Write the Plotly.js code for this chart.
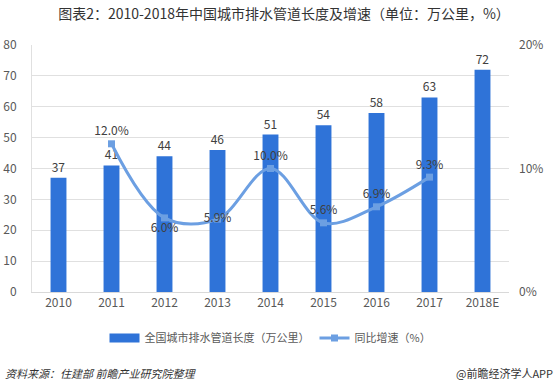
<!DOCTYPE html>
<html>
<head>
<meta charset="utf-8">
<script src="https://cdn.plot.ly/plotly-3.0.1.min.js"></script>
<style>html,body{margin:0;padding:0;background:#fff;}#chart{width:558px;height:380px;}</style>
</head>
<body>
<div id="chart"></div>
<script>
const categories = ['2010','2011','2012','2013','2014','2015','2016','2017','2018E'];
const pipeLength = [37, 41, 44, 46, 51, 54, 58, 63, 72];
const growthYears = ['2011','2012','2013','2014','2015','2016','2017'];
const growthRate = [12.0, 6.0, 5.9, 10.0, 5.6, 6.9, 9.3];
const growthLabels = ['12.0%','6.0%','5.9%','10.0%','5.6%','6.9%','9.3%'];
const growthLabelPos = ['top center','bottom center','middle center','top center','top center','top center','top center'];
const rightTicks = [0, 10, 20];
const rightTickText = ['0%','10%','20%'];

const FONT = '"Microsoft YaHei","Noto Sans CJK SC",sans-serif';
const GRAY = '#595959';
const BAR_COLOR = '#2F73D8';
const LINE_COLOR = '#6C9FE2';

const traces = [
  {
    type: 'bar', name: '全国城市排水管道长度（万公里）', showlegend: false,
    x: categories, y: pipeLength,
    text: pipeLength.map(String), textposition: 'outside',
    textfont: {family: FONT, size: 12, color: '#404040'},
    marker: {color: BAR_COLOR}, width: 0.3, cliponaxis: false
  },
  {
    type: 'scatter', mode: 'lines', name: '全国城市排水管道长度（万公里）',
    x: [null], y: [null], showlegend: true,
    line: {color: BAR_COLOR, width: 9}
  },
  {
    type: 'scatter', mode: 'lines+markers+text', name: '同比增速（%）',
    x: growthYears, y: growthRate, yaxis: 'y2',
    text: growthLabels, textposition: growthLabelPos,
    textfont: {family: FONT, size: 12, color: '#404040'},
    line: {color: LINE_COLOR, width: 3, shape: 'spline', smoothing: 1},
    marker: {symbol: 'square', size: 7, color: LINE_COLOR}, cliponaxis: false
  }
];

const layout = {
  width: 558, height: 380,
  margin: {l: 32, r: 49, t: 45, b: 88},
  paper_bgcolor: '#fff', plot_bgcolor: '#fff',
  font: {family: FONT, color: GRAY},
  showlegend: true,
  title: {
    text: '图表2：2010-2018年中国城市排水管道长度及增速（单位：万公里，%）',
    font: {family: FONT, size: 14, color: '#333333', weight: 'normal'},
    x: 284/558, xanchor: 'center', y: 1 - 14/380, yanchor: 'middle'
  },
  xaxis: {
    type: 'category', range: [-0.5, 8.5],
    showgrid: false, showline: true, linecolor: '#D9D9D9', linewidth: 1,
    ticks: '', tickfont: {family: FONT, size: 12, color: GRAY}
  },
  yaxis: {
    range: [0, 80], dtick: 10,
    showgrid: true, gridcolor: '#E0E0E0', gridwidth: 1,
    showline: true, linecolor: '#E0E0E0', zeroline: false,
    ticks: '', ticklabelstandoff: 12,
    tickfont: {family: FONT, size: 12, color: GRAY}
  },
  yaxis2: {
    overlaying: 'y', side: 'right', range: [0, 20],
    tickvals: rightTicks, ticktext: rightTickText,
    showgrid: false, zeroline: false, showline: false,
    ticks: '', ticklabelstandoff: 9,
    tickfont: {family: FONT, size: 12, color: GRAY}
  },
  legend: {
    orientation: 'h', x: 0.5, xanchor: 'center', y: -0.186, yanchor: 'middle',
    font: {family: FONT, size: 11, color: GRAY}, itemwidth: 30
  },
  annotations: [
    {
      xref: 'paper', yref: 'paper', x: -0.061, y: -0.328, xanchor: 'left', yanchor: 'middle',
      text: '<i>资料来源：住建部 前瞻产业研究院整理</i>', showarrow: false,
      font: {family: FONT, size: 11, color: '#333333'}
    },
    {
      xref: 'paper', yref: 'paper', x: 1.096, y: -0.328, xanchor: 'right', yanchor: 'middle',
      text: '@前瞻经济学人APP', showarrow: false,
      font: {family: FONT, size: 11, color: '#333333'}
    }
  ]
};

Plotly.newPlot('chart', traces, layout, {displayModeBar: false, staticPlot: true});
</script>
</body>
</html>
